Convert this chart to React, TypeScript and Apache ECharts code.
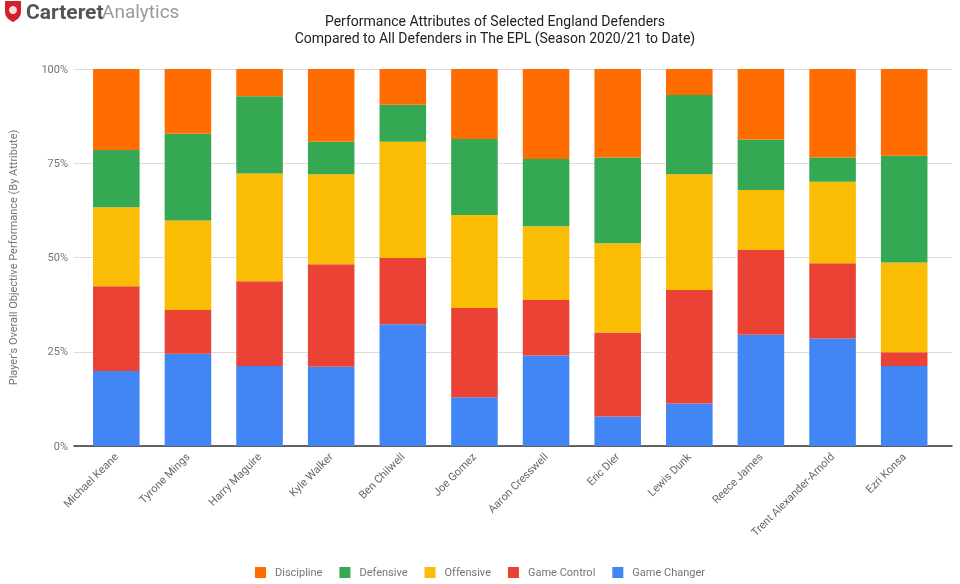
import React, { useEffect, useRef } from "react";
import * as echarts from "echarts";

const players = [
  "Michael Keane", "Tyrone Mings", "Harry Maguire", "Kyle Walker", "Ben Chilwell", "Joe Gomez",
  "Aaron Cresswell", "Eric Dier", "Lewis Dunk", "Reece James", "Trent Alexander-Arnold", "Ezri Konsa",
];
const gameChanger = [19.9, 24.5, 21.2, 21.0, 32.3, 12.9, 24.0, 7.8, 11.3, 29.5, 28.5, 21.2];
const gameControl = [22.5, 11.6, 22.5, 27.2, 17.6, 23.7, 14.7, 22.3, 30.1, 22.5, 20.0, 3.7];
const offensive = [20.9, 23.7, 28.6, 23.9, 30.8, 24.7, 19.6, 23.7, 30.7, 15.9, 21.6, 23.8];
const defensive = [15.2, 23.0, 20.5, 8.6, 9.8, 20.1, 17.8, 22.7, 21.0, 13.4, 6.4, 28.3];
const discipline = [21.5, 17.2, 7.2, 19.3, 9.5, 18.6, 23.9, 23.5, 6.9, 18.7, 23.5, 23.0];
const yTicks = [0, 25, 50, 75, 100];

const SHIELD = "M0 0 L16 0 L16 11 C16 16 12 19 8 21 C4 19 0 16 0 11 Z";

export default function App() {
  const ref = useRef<HTMLDivElement>(null);
  useEffect(() => {
    if (!ref.current) return;
    try {
      echarts.graphic.registerShape("shield", echarts.graphic.extendPath(SHIELD, {}) as any);
    } catch (e) {}
    const chart = echarts.init(ref.current, null, { renderer: "svg" });
    const mk = (name: string, data: number[], color: string) => ({
      name,
      type: "bar",
      stack: "all",
      xAxisIndex: 1,
      yAxisIndex: 1,
      data,
      barCategoryGap: "35%",
      itemStyle: { color },
      emphasis: { disabled: true },
    });
    const yMin = yTicks[0];
    const yMax = yTicks[yTicks.length - 1];
    chart.setOption({
      animation: false,
      textStyle: { fontFamily: "Roboto" },
      title: {
        text: "Performance Attributes of Selected England Defenders\nCompared to All Defenders in The EPL (Season 2020/21 to Date)",
        left: 490,
        textAlign: "center",
        top: 7,
        textStyle: { fontSize: 14, fontWeight: "normal", color: "#222", lineHeight: 17, fontFamily: "Roboto" },
      },
      legend: {
        data: ["Discipline", "Defensive", "Offensive", "Game Control", "Game Changer"],
        left: "center",
        top: 562,
        icon: "rect",
        itemWidth: 11,
        itemHeight: 11,
        itemGap: 17,
        textStyle: { fontSize: 11, color: "#757575", padding: [0, 0, 0, 4], fontFamily: "Roboto" },
      },
      grid: [
        { left: 68, right: 8, top: 69, bottom: 584 - 446 },
        { left: 80.5, right: 20, top: 69, bottom: 584 - 446 },
      ],
      xAxis: [
        {
          type: "value",
          gridIndex: 0,
          min: 0,
          max: 1,
          axisLine: { show: true, onZero: false, lineStyle: { color: "#333", width: 1.5 } },
          axisLabel: { show: false },
          axisTick: { show: false },
          splitLine: { show: false },
        },
        {
          type: "category",
          gridIndex: 1,
          data: players,
          axisTick: { show: false },
          axisLine: { show: false },
          axisLabel: { rotate: 45, fontSize: 11, color: "#666", margin: 9, interval: 0, fontFamily: "Roboto" },
        },
      ],
      yAxis: [
        {
          type: "value",
          gridIndex: 0,
          min: yMin,
          max: yMax,
          interval: 25,
          name: "Player's Overall Objective Performance (By Attribute)",
          nameLocation: "middle",
          nameGap: 55,
          nameTextStyle: { fontSize: 11, color: "#757575", fontFamily: "Roboto" },
          axisLabel: { formatter: "{value}%", fontSize: 11, color: "#757575", margin: 6 },
          splitLine: { lineStyle: { color: "#dcdcdc" } },
          axisLine: { show: false },
          axisTick: { show: false },
        },
        {
          type: "value",
          gridIndex: 1,
          min: yMin,
          max: yMax,
          interval: 25,
          show: false,
          splitLine: { show: false },
        },
      ],
      series: [
        mk("Game Changer", gameChanger, "#4285F4"),
        mk("Game Control", gameControl, "#EA4335"),
        mk("Offensive", offensive, "#FBBC04"),
        mk("Defensive", defensive, "#34A853"),
        mk("Discipline", discipline, "#FF6D01"),
      ],
      graphic: [
        { type: "shield", x: 5, y: 1, style: { fill: "#D21F2B" } },
        { type: "circle", shape: { cx: 13, cy: 10, r: 4 }, style: { fill: "#fff", opacity: 0.85 } },
        { type: "text", x: 26, y: 1, style: { text: "Carteret", font: "bold 21px Roboto", fill: "#555" } },
        { type: "text", x: 102, y: 2, style: { text: "Analytics", font: "19px Roboto", fill: "#9a9a9a" } },
      ],
    });
    return () => chart.dispose();
  }, []);
  return <div ref={ref} style={{ position: "fixed", left: 0, top: 0, width: 960, height: 584 }} />;
}
